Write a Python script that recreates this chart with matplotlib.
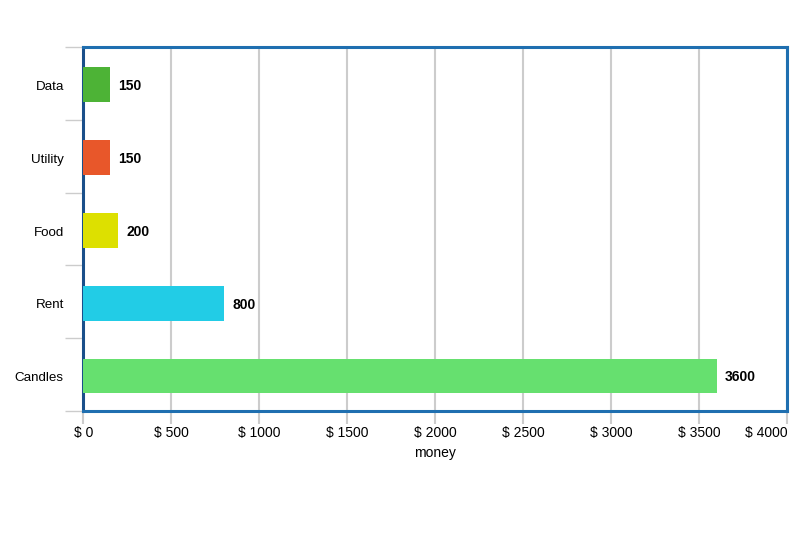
import matplotlib.pyplot as plt
import numpy as np

categories = ['Candles', 'Rent', 'Food', 'Utility', 'Data']
values = [3600, 800, 200, 150, 150]
colors = ['#66e06f', '#22cce6', '#dde000', '#e8572a', '#4db336']
xticks = [0, 500, 1000, 1500, 2000, 2500, 3000, 3500, 4000]

plt.rcParams['font.family'] = ['Liberation Sans', 'DejaVu Sans']

fig = plt.figure(figsize=(8, 5.33), dpi=100)
ax = fig.add_axes([0.104, 0.229, 0.88, 0.683])

y = np.arange(len(categories))
ax.barh(y - 0.02, values, height=0.48, color=colors, zorder=3)

for yi, v in zip(y, values):
    ax.annotate(str(v), (v, yi - 0.02), xytext=(6, -1), textcoords='offset points',
                va='center', ha='left', fontsize=10, fontweight='bold', zorder=4)

ax.set_xlim(0, 4000)
ax.set_ylim(-0.5, len(categories) - 0.5)

ax.set_xticks(xticks)
labels = [f'$ {t}' for t in xticks]
ax.set_xticklabels(labels, fontsize=10)
ax.get_xticklabels()[-1].set_ha('right')
ax.tick_params(axis='x', length=9, color='#cccccc', width=1.5, pad=2)

ax.set_yticks(y - 0.03)
ax.set_yticklabels(categories, fontsize=9.6)
ax.set_yticks(np.arange(-0.5, len(categories)), minor=True)
ax.tick_params(axis='y', which='major', length=0, pad=14)
ax.tick_params(axis='y', which='minor', length=13, color='#cccccc', width=1)

ax.grid(axis='x', color='#cccccc', linewidth=1.5, zorder=0)
ax.set_axisbelow(True)

for side in ['top', 'right', 'bottom']:
    ax.spines[side].set_color('#1f6fb0')
    ax.spines[side].set_linewidth(2.2)
ax.spines['left'].set_color('#1a4f8a')
ax.spines['left'].set_linewidth(2.2)

ax.set_xlabel('money', fontsize=10, labelpad=4)

plt.savefig('out.png', dpi=100)
